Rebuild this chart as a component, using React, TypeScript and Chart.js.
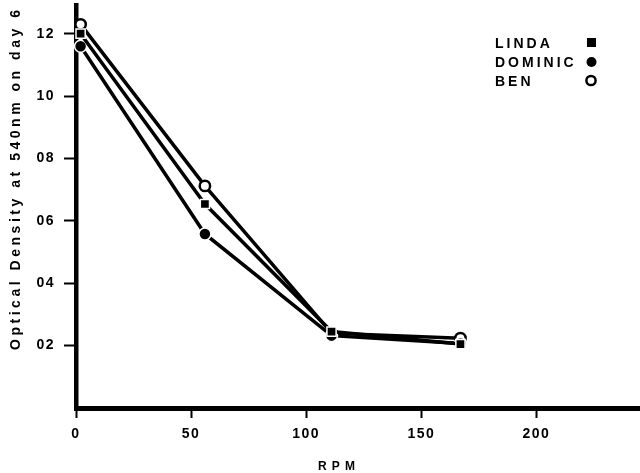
import React, { useEffect, useRef } from "react";
import { Chart, registerables } from "chart.js";

Chart.register(...registerables);

const rpm = [2, 56, 111, 167];
const lindaValues = [1.2, 0.654, 0.245, 0.205];
const dominicValues = [1.16, 0.558, 0.232, 0.207];
const benValues = [1.23, 0.712, 0.24, 0.224];
const seriesNames = ["LINDA", "DOMINIC", "BEN"];
const xTickValues = [0, 50, 100, 150, 200];
const yTickValues = [0.2, 0.4, 0.6, 0.8, 1.0, 1.2];
const yTickLabels = ["02", "04", "06", "08", "10", "12"];
const yTitle = "Optical Density at 540nm on day 6";
const xTitle = "RPM";

const FONT = "'Liberation Sans', Arial, Helvetica, sans-serif";

const textPlugin = {
  id: "textPlugin",
  beforeDraw(chart: any) {
    chart.ctx.letterSpacing = "1.5px";
  },
  afterDraw(chart: any) {
    const ctx = chart.ctx;
    ctx.save();
    ctx.fillStyle = "#000";
    ctx.strokeStyle = "#000";
    // y title
    ctx.font = `bold 14px ${FONT}`;
    ctx.letterSpacing = "0px";
    const w0 = ctx.measureText(yTitle).width;
    const ls = (340 - w0) / (yTitle.length - 1);
    ctx.letterSpacing = ls + "px";
    ctx.save();
    ctx.translate(16, 180);
    ctx.rotate(-Math.PI / 2);
    ctx.textAlign = "left";
    ctx.textBaseline = "middle";
    ctx.fillText(yTitle, -170, 0);
    ctx.restore();
    // x title
    ctx.font = `bold 12px ${FONT}`;
    ctx.letterSpacing = "0px";
    const wx = ctx.measureText(xTitle).width;
    ctx.letterSpacing = (37 - wx) / (xTitle.length - 1) + "px";
    ctx.textAlign = "left";
    ctx.textBaseline = "middle";
    ctx.fillText(xTitle, 318, 467);
    // legend
    ctx.font = `bold 14px ${FONT}`;
    ctx.letterSpacing = "3px";
    ctx.textBaseline = "alphabetic";
    const baselines = [48, 67, 86];
    seriesNames.forEach((name, i) => {
      ctx.fillText(name, 495, baselines[i]);
    });
    // legend markers
    ctx.fillRect(587, 38, 9, 9);
    ctx.beginPath();
    ctx.arc(591.5, 62, 5, 0, Math.PI * 2);
    ctx.fill();
    ctx.beginPath();
    ctx.lineWidth = 2.5;
    ctx.arc(591, 80.5, 4.6, 0, Math.PI * 2);
    ctx.stroke();
    ctx.restore();
  },
};

const zeroPad = (s: any) => {
  s.paddingTop = 0;
  s.paddingBottom = 0;
  s.paddingLeft = 0;
  s.paddingRight = 0;
};

export default function App() {
  const ref = useRef<HTMLCanvasElement>(null);
  useEffect(() => {
    if (!ref.current) return;
    const mk = (vals: number[]) => rpm.map((x, i) => ({ x, y: vals[i] }));
    const tickFont = { family: FONT, size: 14, weight: "bold" as const };
    const chart = new Chart(ref.current, {
      type: "line",
      data: {
        datasets: [
          {
            label: seriesNames[0],
            data: mk(lindaValues),
            borderColor: "#000",
            borderWidth: 3.5,
            pointStyle: "rect",
            pointRadius: 6.5,
            pointBackgroundColor: "#000",
            pointBorderColor: "#fff",
            pointBorderWidth: 1.5,
            clip: false as any,
          },
          {
            label: seriesNames[1],
            data: mk(dominicValues),
            borderColor: "#000",
            borderWidth: 3.5,
            pointStyle: "circle",
            pointRadius: 6,
            pointBackgroundColor: "#000",
            pointBorderColor: "#fff",
            pointBorderWidth: 1.5,
            clip: false as any,
          },
          {
            label: seriesNames[2],
            data: mk(benValues),
            borderColor: "#000",
            borderWidth: 3.5,
            pointStyle: "circle",
            pointRadius: 5.2,
            pointBackgroundColor: "#fff",
            pointBorderColor: "#000",
            pointBorderWidth: 2.5,
            clip: false as any,
          },
        ],
      },
      options: {
        animation: false,
        responsive: true,
        maintainAspectRatio: false,
        layout: { autoPadding: false, padding: { top: 5, right: 0, left: 0, bottom: 0 } },
        plugins: { legend: { display: false }, tooltip: { enabled: false } },
        elements: { line: { tension: 0 } },
        scales: {
          x: {
            type: "linear",
            min: 0,
            max: 245,
            afterBuildTicks: (s: any) => {
              s.ticks = xTickValues.map((v) => ({ value: v }));
            },
            afterFit: (s: any) => {
              s.height = 65;
              zeroPad(s);
            },
            grid: {
              drawOnChartArea: false,
              drawTicks: true,
              tickLength: 10,
              tickWidth: 2,
              tickColor: "#000",
            },
            border: { display: true, color: "#000", width: 5 },
            ticks: {
              color: "#000",
              font: tickFont,
              padding: 8,
              maxRotation: 0,
              autoSkip: false,
              callback: (v: any) => String(v),
            },
          },
          y: {
            type: "linear",
            min: 0,
            max: 1.292,
            afterBuildTicks: (s: any) => {
              s.ticks = yTickValues.map((v) => ({ value: v }));
            },
            afterFit: (s: any) => {
              s.width = 76;
              zeroPad(s);
            },
            grid: {
              drawOnChartArea: false,
              drawTicks: true,
              tickLength: 12,
              tickWidth: 2,
              tickColor: "#000",
            },
            border: { display: true, color: "#000", width: 4.5 },
            ticks: {
              color: "#000",
              font: tickFont,
              padding: 9,
              autoSkip: false,
              callback: (v: any) => yTickLabels[yTickValues.indexOf(v)] ?? "",
            },
          },
        },
      },
      plugins: [textPlugin],
    });
    return () => chart.destroy();
  }, []);
  return (
    <div style={{ position: "fixed", left: 0, top: 0, width: 640, height: 473, background: "#fff" }}>
      <canvas ref={ref} />
    </div>
  );
}
